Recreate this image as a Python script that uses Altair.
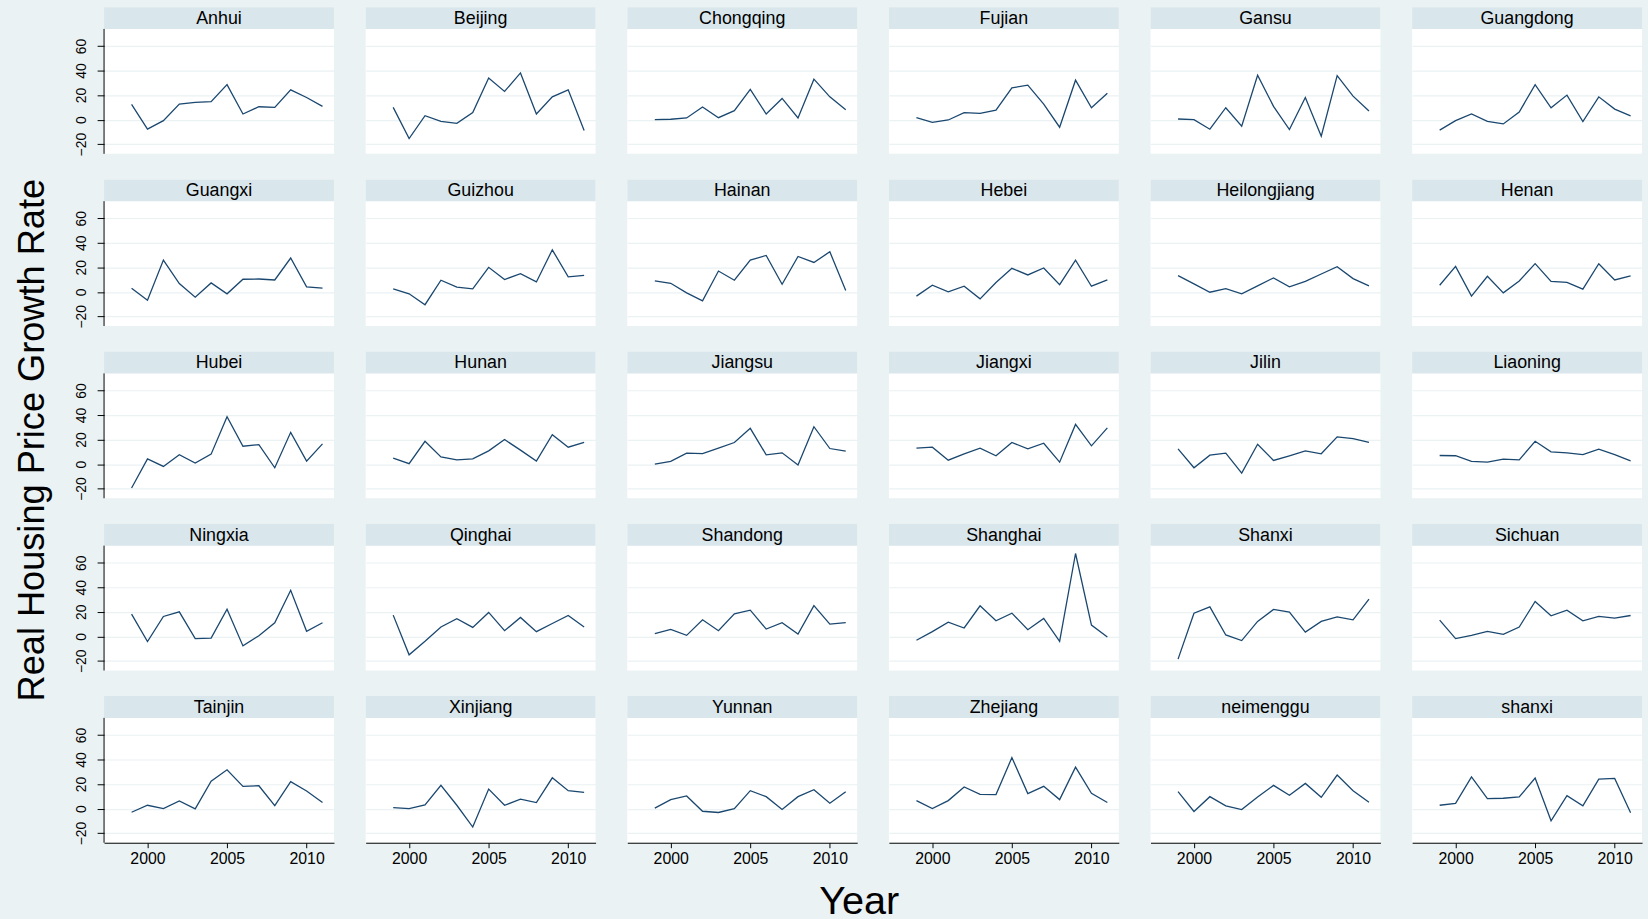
import altair as alt
import pandas as pd

years = list(range(1999, 2012))
provinces = ["Anhui", "Beijing", "Chongqing", "Fujian", "Gansu", "Guangdong",
             "Guangxi", "Guizhou", "Hainan", "Hebei", "Heilongjiang", "Henan",
             "Hubei", "Hunan", "Jiangsu", "Jiangxi", "Jilin", "Liaoning",
             "Ningxia", "Qinghai", "Shandong", "Shanghai", "Shanxi", "Sichuan",
             "Tainjin", "Xinjiang", "Yunnan", "Zhejiang", "neimenggu", "shanxi"]

anhui = [12.4, -7.8, -0.8, 12.7, 14.0, 14.6, 28.6, 4.6, 10.5, 10.0, 24.3, 18.1, 10.8]
beijing = [10.0, -15.4, 3.2, -1.4, -3.0, 5.7, 34.0, 23.0, 38.1, 4.6, 18.6, 24.3, -8.9]
chongqing = [0.0, 0.3, 1.4, 10.3, 1.6, 7.3, 24.6, 4.6, 17.3, 1.4, 33.0, 18.6, 8.1]
fujian = [1.6, -2.2, -0.3, 5.7, 5.1, 7.8, 25.9, 28.1, 12.7, -6.2, 32.2, 9.7, 21.6]
gansu = [0.5, 0.0, -7.8, 9.7, -5.4, 36.2, 10.8, -8.1, 18.1, -13.5, 35.9, 19.2, 7.0]
guangdong = [-8.6, -0.8, 4.6, -1.4, -3.5, 6.2, 28.6, 9.7, 20.0, -1.6, 18.6, 8.6, 3.0]
guangxi = [3.0, -6.8, 25.9, 6.8, -4.3, 7.3, -1.6, 10.3, 10.5, 9.7, 27.6, 4.1, 3.0]
guizhou = [2.4, -1.6, -10.5, 9.5, 3.8, 2.4, 20.0, 10.0, 14.9, 8.1, 34.3, 12.2, 13.5]
hainan = [8.9, 7.0, -0.8, -7.3, 17.0, 9.5, 25.9, 29.7, 6.2, 28.9, 24.0, 32.7, 1.1]
hebei = [-3.5, 5.4, 0.0, 4.6, -5.7, 7.6, 19.2, 13.8, 19.5, 5.9, 25.9, 4.6, 9.7]
heilongjiang = [13.2, 6.5, -0.3, 2.7, -1.6, 4.9, 11.4, 4.1, 8.6, 14.6, 20.5, 10.8, 4.9]
henan = [5.4, 20.8, -3.5, 12.7, -0.8, 8.9, 23.0, 8.6, 7.8, 2.2, 23.0, 9.7, 13.0]
hubei = [-19.5, 4.3, -1.9, 7.6, 0.8, 8.1, 38.6, 14.6, 15.9, -3.0, 25.9, 2.4, 16.5]
hunan = [4.9, 0.3, 18.6, 5.9, 3.5, 4.3, 10.8, 20.0, 11.4, 2.4, 24.0, 13.8, 17.8]
jiangsu = [0.0, 2.2, 8.9, 8.6, 13.0, 17.6, 29.2, 7.6, 9.2, -0.8, 30.5, 12.7, 10.5]
jiangxi = [13.0, 13.8, 3.2, 8.4, 13.0, 6.8, 17.6, 12.4, 17.0, 1.6, 32.4, 14.9, 29.5]
jilin = [12.4, -3.0, 7.3, 8.9, -7.3, 16.2, 3.0, 6.8, 10.8, 8.4, 22.2, 20.8, 17.8]
liaoning = [7.0, 6.8, 2.2, 1.6, 4.1, 3.5, 18.6, 10.0, 9.2, 7.8, 12.2, 7.8, 2.7]
ningxia = [18.1, -4.3, 16.2, 20.0, -1.9, -1.4, 22.2, -7.8, 0.5, 11.1, 37.6, 4.1, 11.1]
qinghai = [17.3, -15.1, -4.1, 7.6, 14.3, 7.3, 19.5, 4.6, 15.4, 3.8, 10.5, 17.0, 7.6]
shandong = [2.2, 5.7, 0.8, 13.5, 4.6, 18.4, 21.4, 5.9, 11.1, 1.9, 25.1, 10.0, 11.1]
shanghai = [-3.2, 3.8, 11.6, 6.8, 24.9, 12.7, 18.9, 5.4, 14.6, -4.1, 67.6, 9.2, -0.5]
shanxi_ = [-18.6, 18.9, 24.0, 1.1, -3.5, 12.2, 21.9, 19.7, 3.5, 12.2, 15.9, 13.5, 30.3]
sichuan = [13.2, -1.9, 0.8, 4.1, 1.6, 7.6, 28.4, 16.8, 21.4, 12.7, 16.2, 14.9, 17.0]
tainjin = [-3.0, 2.7, 0.0, 6.2, -0.3, 22.4, 31.6, 18.1, 18.6, 2.4, 21.9, 14.3, 4.9]
xinjiang = [0.8, 0.0, 3.0, 18.9, 2.7, -15.1, 15.9, 2.7, 7.6, 4.9, 25.1, 14.6, 13.2]
yunnan = [0.3, 7.3, 10.3, -2.2, -3.2, 0.0, 14.6, 9.7, -0.8, 9.7, 15.4, 4.3, 13.8]
zhejiang = [6.5, 0.0, 6.5, 17.6, 11.6, 11.4, 41.6, 12.2, 18.1, 7.3, 33.8, 12.4, 4.9]
neimenggu = [13.8, -2.4, 9.7, 2.2, -0.8, 9.5, 18.9, 10.8, 20.5, 9.2, 27.3, 14.6, 5.1]
shanxi_lc = [2.7, 4.3, 25.9, 8.1, 8.4, 9.5, 24.9, -10.0, 10.5, 2.2, 24.0, 24.6, -3.5]

series = [anhui, beijing, chongqing, fujian, gansu, guangdong,
          guangxi, guizhou, hainan, hebei, heilongjiang, henan,
          hubei, hunan, jiangsu, jiangxi, jilin, liaoning,
          ningxia, qinghai, shandong, shanghai, shanxi_, sichuan,
          tainjin, xinjiang, yunnan, zhejiang, neimenggu, shanxi_lc]

y_title = ["Real Housing Price Growth Rate"]
x_title = ["Year"]
y_ticks = [-20, 0, 20, 40, 60]
x_ticks = [2000, 2005, 2010]

rows = []
for p, vals in zip(provinces, series):
    for yr, v in zip(years, vals):
        rows.append({"province": p, "year": yr, "growth": v})
df = pd.DataFrame(rows)
strip_df = pd.DataFrame({"province": provinces})

BG = "#EAF2F3"
STRIP = "#D9E6EB"
LINE = "#1A476F"
GRID = "#EAF2F3"
FONT = "Liberation Sans"

PW = 232
PLOT_H = 126
STRIP_H = 22
PH = PLOT_H + STRIP_H
Y_LO, Y_HI = -27.9, 74.0
Y_TOP = Y_HI + (Y_HI - Y_LO) * STRIP_H / PLOT_H
X_LO, X_HI = 1997.27, 2011.72
HSP = 32.0
VSP = 22.8
AXIS_EXT = 30


def panel(i):
    name = provinces[i]
    r, c = divmod(i, 6)
    first_col = c == 0
    last_row = r == 4
    yaxis = alt.Axis(values=y_ticks, title=None, grid=True, gridColor=GRID, gridWidth=1.2,
                     domain=False, ticks=first_col, labels=first_col, tickSize=7,
                     tickColor="#000000", labelAngle=270, labelAlign="center",
                     labelBaseline="bottom", labelFontSize=14, labelPadding=9,
                     labelColor="#000000", labelFont=FONT)
    if last_row:
        xaxis = alt.Axis(values=x_ticks, format="d", title=None, grid=False, domain=True,
                         domainColor="#000000", ticks=True, tickSize=5, tickColor="#000000",
                         labelFontSize=16, labelPadding=3, labelColor="#000000", labelFont=FONT)
        xenc = alt.X("year:Q", scale=alt.Scale(domain=[X_LO, X_HI], nice=False, zero=False), axis=xaxis)
    else:
        xenc = alt.X("year:Q", scale=alt.Scale(domain=[X_LO, X_HI], nice=False, zero=False), axis=None)
    line = alt.Chart(df).transform_filter(alt.datum.province == name).mark_line(
        color=LINE, strokeWidth=1.3).encode(
        x=xenc,
        y=alt.Y("growth:Q", scale=alt.Scale(domain=[Y_LO, Y_TOP], nice=False, zero=False), axis=yaxis),
    )
    sb = alt.Chart(strip_df).transform_filter(alt.datum.province == name)
    rect = sb.mark_rect(color=STRIP).encode(
        x=alt.value(0), x2=alt.value(PW), y=alt.value(0), y2=alt.value(STRIP_H))
    text = sb.mark_text(fontSize=18, color="#000000", baseline="middle", font=FONT).encode(
        x=alt.value(PW / 2), y=alt.value(STRIP_H / 2 + 1), text="province:N")
    layers = [line, rect, text]
    if first_col:
        rule = sb.mark_rule(color="#000000", strokeWidth=1).encode(
            x=alt.value(0), y=alt.value(STRIP_H), y2=alt.value(PH))
        layers.append(rule)
    return alt.layer(*layers).properties(width=PW, height=PH)


grid_rows = []
for r in range(5):
    grid_rows.append(alt.hconcat(*[panel(r * 6 + c) for c in range(6)], spacing=HSP))

grid = alt.vconcat(*grid_rows, spacing=VSP)

GRID_W = 6 * PW + 5 * HSP + AXIS_EXT
LEFT = 104 - AXIS_EXT
year_chart = alt.Chart(pd.DataFrame({"t": x_title})).mark_text(
    fontSize=40, color="#000000", baseline="middle", font=FONT).encode(
    x=alt.value(762), y=alt.value(35), text="t:N").properties(
    width=GRID_W - 24, height=46, view=alt.ViewBackground(fill=BG, strokeWidth=0))

main = alt.vconcat(grid, year_chart, spacing=0)

TOTAL_H = 5 * PH + 4 * VSP + 23 + 46
ylab = alt.Chart(pd.DataFrame({"t": y_title})).mark_text(
    fontSize=36.5, color="#000000", baseline="middle", align="center", angle=270, font=FONT).encode(
    x=alt.value(33), y=alt.value(437), text="t:N").properties(
    width=LEFT, height=TOTAL_H, view=alt.ViewBackground(fill=BG, strokeWidth=0))

chart = alt.hconcat(ylab, main, spacing=0).properties(
    padding={"left": 0, "top": 3, "right": 0, "bottom": 0}
).configure(background=BG, font=FONT).configure_view(strokeWidth=0, fill="white")

chart.save("out.html", embed_options={"renderer": "svg", "actions": False})
